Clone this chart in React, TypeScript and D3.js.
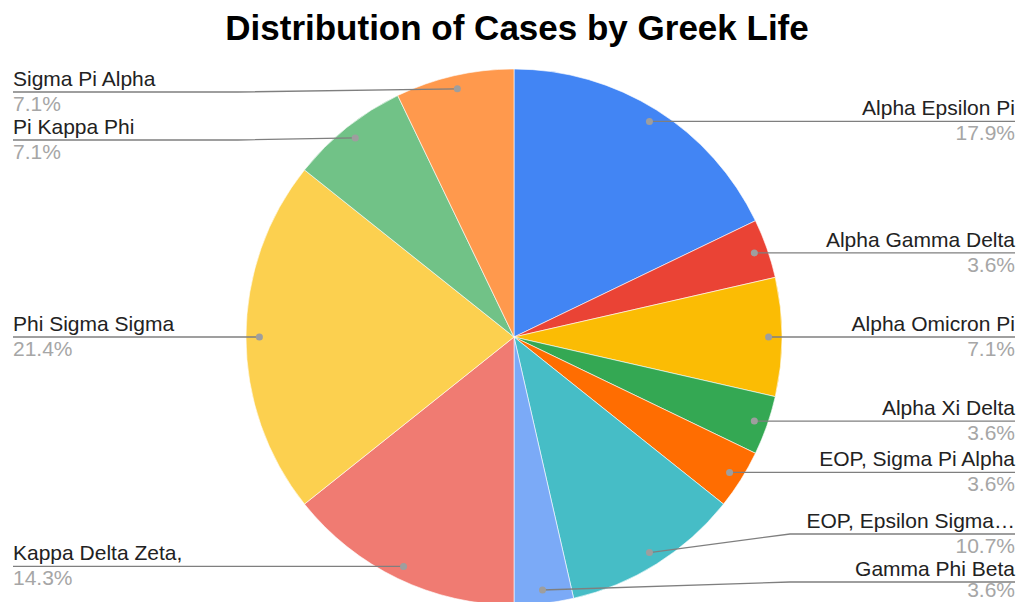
import React from "react";
import * as d3 from "d3";

const categories = [
  "Alpha Epsilon Pi",
  "Alpha Gamma Delta",
  "Alpha Omicron Pi",
  "Alpha Xi Delta",
  "EOP, Sigma Pi Alpha",
  "EOP, Epsilon Sigma…",
  "Gamma Phi Beta",
  "Kappa Delta Zeta,",
  "Phi Sigma Sigma",
  "Pi Kappa Phi",
  "Sigma Pi Alpha",
];
const counts = [5, 1, 2, 1, 1, 3, 1, 4, 6, 2, 2];
const colors = [
  "#4285F4",
  "#EA4335",
  "#FBBC04",
  "#34A853",
  "#FF6D01",
  "#46BDC6",
  "#7BAAF7",
  "#F07B72",
  "#FCD04F",
  "#71C287",
  "#FF994D",
];
const title = "Distribution of Cases by Greek Life";

const W = 1020;
const H = 602;
const cx = 514;
const cy = 337;
const R = 268;
const FONT = "'Liberation Sans', Arial, sans-serif";

export default function App() {
  const total = d3.sum(counts);
  const data = categories.map((c, i) => ({ name: c, value: counts[i], color: colors[i] }));
  const pie = d3.pie<any>().value((d: any) => d.value).sort(null);
  const arcs = pie(data);
  const arcGen = d3.arc<any>().innerRadius(0).outerRadius(R);
  const dotArc = d3.arc<any>().innerRadius(R * 0.95).outerRadius(R * 0.95);

  const items = arcs.map((a) => {
    const [dx, dy] = dotArc.centroid(a);
    const mid = (a.startAngle + a.endAngle) / 2;
    return {
      a,
      dotX: cx + dx,
      dotY: cy + dy,
      right: mid < Math.PI,
      ly: cy + dy,
      pct: ((a.data.value / total) * 100).toFixed(1) + "%",
    };
  });

  const minY = 92;
  const maxY = 582;
  const gap = 48;
  const layout = (side: any[]) => {
    side.sort((p, q) => p.dotY - q.dotY);
    side.forEach((s) => (s.ly = Math.min(maxY, Math.max(minY, s.dotY))));
    for (let i = 1; i < side.length; i++) {
      if (side[i].ly < side[i - 1].ly + gap) side[i].ly = side[i - 1].ly + gap;
    }
    for (let i = side.length - 1; i >= 0; i--) {
      if (side[i].ly > maxY) side[i].ly = maxY;
      if (i < side.length - 1 && side[i].ly > side[i + 1].ly - gap) side[i].ly = side[i + 1].ly - gap;
    }
  };
  layout(items.filter((d) => d.right));
  layout(items.filter((d) => !d.right));

  return (
    <svg
      width={W}
      height={H}
      style={{ position: "absolute", left: 0, top: 0, background: "#fff" }}
    >
      <rect width={W} height={H} fill="#fff" />
      <text
        x={517}
        y={40}
        textAnchor="middle"
        fontFamily={FONT}
        fontWeight="bold"
        fontSize={35}
        fill="#000"
      >
        {title}
      </text>
      <g transform={`translate(${cx},${cy})`}>
        {arcs.map((a, i) => (
          <path key={i} d={arcGen(a) as string} fill={a.data.color} stroke="#fff" strokeWidth={0.6} />
        ))}
      </g>
      {items.map((it, i) => {
        const bendX = it.right ? cx + R + 8 : cx - R - 8;
        const endX = it.right ? 1015 : 13;
        const pts = `${it.dotX},${it.dotY} ${bendX},${it.ly} ${endX},${it.ly}`;
        return (
          <g key={i}>
            <polyline points={pts} fill="none" stroke="#7f7f7f" strokeWidth={1.3} />
            <circle cx={it.dotX} cy={it.dotY} r={3.5} fill="#9e9e9e" />
            <text
              x={endX}
              y={it.ly - 6}
              textAnchor={it.right ? "end" : "start"}
              fontFamily={FONT}
              fontSize={21}
              fill="#222"
            >
              {it.a.data.name}
            </text>
            <text
              x={endX}
              y={Math.min(it.ly + 19, H - 5)}
              textAnchor={it.right ? "end" : "start"}
              fontFamily={FONT}
              fontSize={21}
              fill="#a6a6a6"
            >
              {it.pct}
            </text>
          </g>
        );
      })}
    </svg>
  );
}
